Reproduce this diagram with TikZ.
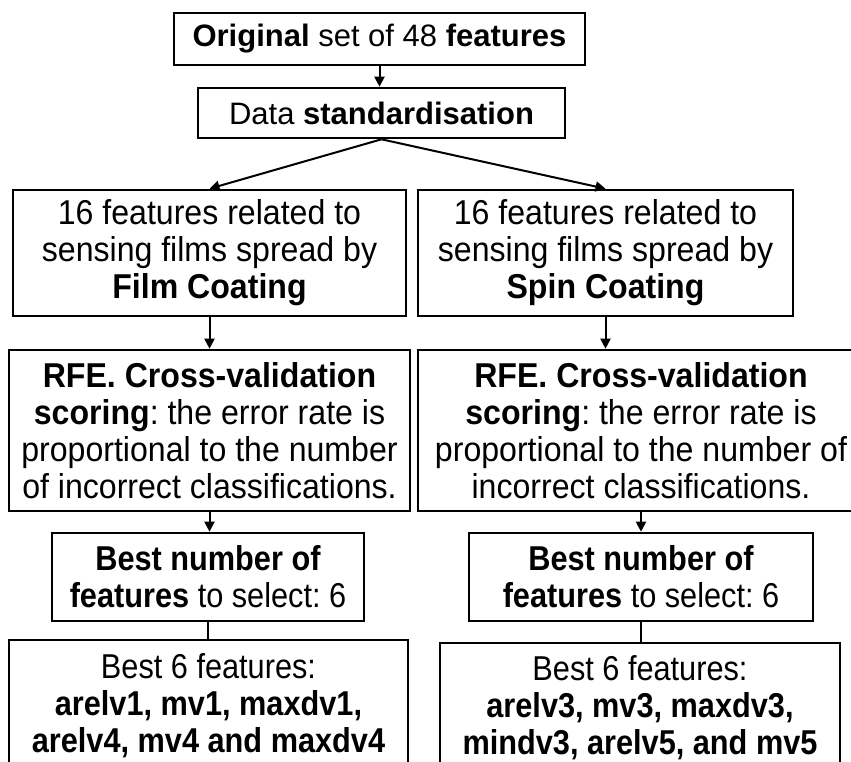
\documentclass[tikz,border=0pt]{standalone}
\usepackage{fontspec}
\setmainfont{Liberation Sans}
\newfontfamily\narrowfont[FakeStretch=0.93]{Liberation Sans}
\newfontfamily\narrowerfont[FakeStretch=0.89]{Liberation Sans}
\usetikzlibrary{arrows.meta}
\frenchspacing
\begin{document}
\begin{tikzpicture}[x=1pt,y=-1pt,
  box/.style={draw,line width=2.6pt,rectangle,inner sep=0pt,align=center,
    font=\frenchspacing\fontsize{31}{37}\selectfont},
  nbox/.style={box,font=\frenchspacing\narrowfont\fontsize{34.5}{37}\selectfont},
  mbox/.style={box,font=\frenchspacing\narrowerfont\fontsize{34.5}{37}\selectfont},
  arr/.style={line width=2pt,-{Triangle[length=10pt,width=10pt]}},
  link/.style={line width=2pt}]
\useasboundingbox (0,0) rectangle (851,762);
\node[box,minimum width=411pt,minimum height=52pt] (b1) at (379.5,39)
  {\textbf{Original} set of 48 \textbf{features}};
\node[box,minimum width=367pt,minimum height=50pt] (b2) at (381.5,113)
  {Data \textbf{standardisation}};
\node[nbox,minimum width=393pt,minimum height=126pt] (l3) at (209.5,253)
  {16 features related to\\sensing films spread by\\\textbf{Film Coating}};
\node[nbox,minimum width=375pt,minimum height=126pt] (r3) at (605.5,253)
  {16 features related to\\sensing films spread by\\\textbf{Spin Coating}};
\node[nbox,minimum width=401pt,minimum height=161pt] (l4) at (209.5,430.5)
  {\textbf{RFE. Cross-validation}\\\textbf{scoring}: the error rate is\\proportional to the number\\of incorrect classifications.};
\node[nbox,minimum width=446pt,minimum height=161pt] (r4) at (641,430.5)
  {\textbf{RFE. Cross-validation}\\\textbf{scoring}: the error rate is\\proportional to the number of\\incorrect classifications.};
\node[mbox,minimum width=312pt,minimum height=88pt] (l5) at (208,577)
  {\textbf{Best number of}\\\textbf{features} to select: 6};
\node[mbox,minimum width=344pt,minimum height=88pt] (r5) at (641,577)
  {\textbf{Best number of}\\\textbf{features} to select: 6};
\node[mbox,minimum width=399pt,minimum height=132pt] (l6) at (208.5,706)
  {Best 6 features:\\\textbf{arelv1, mv1, maxdv1,}\\\textbf{arelv4, mv4 and maxdv4}};
\node[mbox,minimum width=400pt,minimum height=130pt] (r6) at (640,708)
  {Best 6 features:\\\textbf{arelv3, mv3, maxdv3,}\\\textbf{mindv3, arelv5, and mv5}};
\draw[arr] (b1.south) -- (b1.south |- b2.north);
\draw[arr] (b2.south) -- (l3.north);
\draw[arr] (b2.south) -- (r3.north);
\draw[arr] (l3.south) -- (l3.south |- l4.north);
\draw[arr] (r3.south) -- (r3.south |- r4.north);
\draw[arr] (l4.south) -- (l4.south |- l5.north);
\draw[arr] (r4.south) -- (r4.south |- r5.north);
\draw[link] (l5.south) -- (l5.south |- l6.north);
\draw[link] (r5.south) -- (r5.south |- r6.north);
\end{tikzpicture}
\end{document}
